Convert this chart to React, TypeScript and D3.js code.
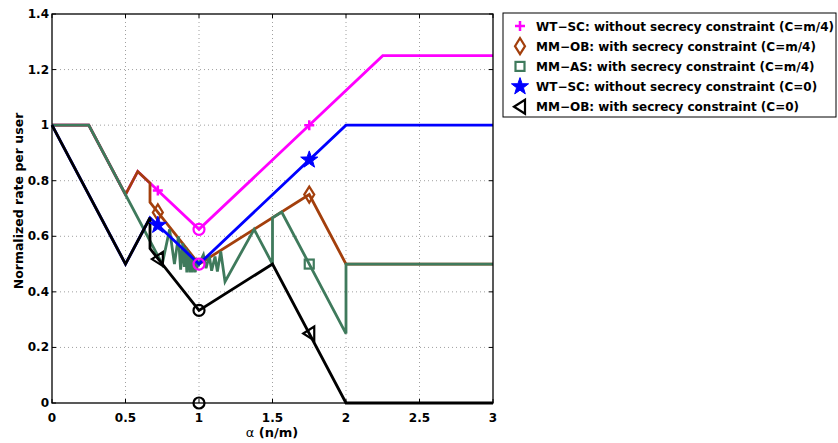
import React from "react";
import * as d3 from "d3";

const xTicks = [0, 0.5, 1, 1.5, 2, 2.5, 3];
const yTicks = [0, 0.2, 0.4, 0.6, 0.8, 1, 1.2, 1.4];

const magentaX = [0, 0.25, 0.5, 0.5833, 1, 2.25, 3];
const magentaY = [1, 1, 0.75, 0.8333, 0.625, 1.25, 1.25];

const brownX = [0, 0.25, 0.5, 0.5833, 0.6667, 0.6667, 1, 1.75, 2, 3];
const brownY = [1, 1, 0.75, 0.8333, 0.7917, 0.7222, 0.5, 0.75, 0.5, 0.5];

const greenX = [0, 0.25, 0.75, 0.8, 0.833, 0.86, 0.875, 0.89, 0.9, 0.91, 0.917, 0.924, 0.929, 0.934, 0.9375, 0.942, 0.946, 0.951, 0.955, 0.96, 0.965, 0.97, 0.975, 0.98, 0.985, 0.99, 1,
  1.03, 1.048, 1.07, 1.086, 1.109, 1.125, 1.148, 1.177, 1.375, 1.5, 1.5, 1.5625, 2, 2, 3];
const greenY = [1, 1, 0.5, 0.625, 0.5, 0.6, 0.48, 0.575, 0.49, 0.56, 0.47, 0.55, 0.48, 0.54, 0.47, 0.535, 0.48, 0.53, 0.47, 0.525, 0.48, 0.52, 0.47, 0.515, 0.48, 0.51, 0.5,
  0.533, 0.485, 0.529, 0.476, 0.527, 0.473, 0.545, 0.437, 0.625, 0.5, 0.6667, 0.6875, 0.25, 0.5, 0.5];

const blueX = [0, 0.5, 0.6667, 1, 2, 3];
const blueY = [1, 0.5, 0.6667, 0.5, 1, 1];

const blackX = [0, 0.5, 0.6667, 0.6667, 1, 1.5, 2, 3];
const blackY = [1, 0.5, 0.6667, 0.5556, 0.3333, 0.5, 0, 0];

const markerX = [0.72, 1.75];
const magentaMarkY = [0.765, 1.0];
const brownMarkY = [0.686, 0.75];
const greenMarkX = [1.75];
const greenMarkY = [0.5];
const blueMarkY = [0.64, 0.875];
const blackMarkY = [0.518, 0.25];

const circleX = [1, 1, 1, 1];
const circleY = [0.625, 0.5, 0.3333, 0];
const circleColorIdx = [0, 0, 4, 4];

const legendLabels = [
  "WT\u2212SC: without secrecy constraint (C=m/4)",
  "MM\u2212OB: with secrecy constraint (C=m/4)",
  "MM\u2212AS: with secrecy constraint (C=m/4)",
  "WT\u2212SC: without secrecy constraint (C=0)",
  "MM\u2212OB: with secrecy constraint (C=0)",
];

const colors = ["#ff00ff", "#a33f0c", "#3f7a5c", "#0000ff", "#000000"];

const W = 838, H = 443;
const L = 52, R = 493, T = 14, B = 403;

const x = d3.scaleLinear().domain([0, 3]).range([L, R]);
const y = d3.scaleLinear().domain([0, 1.4]).range([B, T]);

function starPath(r: number, ri: number) {
  const pts: string[] = [];
  for (let i = 0; i < 10; i++) {
    const a = -Math.PI / 2 + (i * Math.PI) / 5;
    const rr = i % 2 === 0 ? r : ri;
    pts.push(`${(rr * Math.cos(a)).toFixed(2)},${(rr * Math.sin(a)).toFixed(2)}`);
  }
  return "M" + pts.join("L") + "Z";
}

function Marker({ kind, cx, cy, color }: { kind: number; cx: number; cy: number; color: string }) {
  const t = `translate(${cx},${cy})`;
  if (kind === 0)
    return <path transform={t} d="M-5,0H5M0,-5V5" stroke={color} strokeWidth={2.5} fill="none" />;
  if (kind === 1)
    return <path transform={t} d="M0,-8L5,0L0,8L-5,0Z" stroke={color} strokeWidth={2.2} fill="none" />;
  if (kind === 2)
    return <rect x={cx - 4.5} y={cy - 4.5} width={9} height={9} stroke={color} strokeWidth={2.2} fill="none" />;
  if (kind === 3)
    return <path transform={t} d={starPath(9, 3.6)} fill={color} stroke={color} strokeWidth={1} />;
  return <path transform={t} d="M-6,0L5,-7L5,7Z" stroke={color} strokeWidth={2.2} fill="none" strokeLinejoin="miter" />;
}

const series = [
  { xs: magentaX, ys: magentaY },
  { xs: brownX, ys: brownY },
  { xs: greenX, ys: greenY },
  { xs: blueX, ys: blueY },
  { xs: blackX, ys: blackY },
];

export default function App() {
  const line = d3
    .line<[number, number]>()
    .x((d) => x(d[0]))
    .y((d) => y(d[1]));
  const font = "'DejaVu Sans', 'Liberation Sans', Arial, sans-serif";
  const markYs = [magentaMarkY, brownMarkY, null, blueMarkY, blackMarkY];
  return (
    <svg
      width={W}
      height={H}
      style={{ position: "absolute", left: 0, top: 0, background: "#fff" }}
      fontFamily={font}
    >
      <rect x={0} y={0} width={W} height={H} fill="#fff" />
      {/* grid */}
      {xTicks.slice(1, -1).map((t) => (
        <line key={"gx" + t} x1={x(t)} x2={x(t)} y1={T} y2={B} stroke="#a0a0a0" strokeWidth={1} strokeDasharray="1,3" />
      ))}
      {yTicks.slice(1, -1).map((t) => (
        <line key={"gy" + t} x1={L} x2={R} y1={y(t)} y2={y(t)} stroke="#a0a0a0" strokeWidth={1} strokeDasharray="1,3" />
      ))}
      {/* ticks */}
      {xTicks.map((t) => (
        <g key={"tx" + t}>
          <line x1={x(t)} x2={x(t)} y1={B} y2={B - 4} stroke="#000" />
          <line x1={x(t)} x2={x(t)} y1={T} y2={T + 4} stroke="#000" />
          <text x={x(t)} y={B + 19} textAnchor="middle" fontSize={12} fontWeight="bold">
            {String(t)}
          </text>
        </g>
      ))}
      {yTicks.map((t) => (
        <g key={"ty" + t}>
          <line x1={L} x2={L + 4} y1={y(t)} y2={y(t)} stroke="#000" />
          <line x1={R} x2={R - 4} y1={y(t)} y2={y(t)} stroke="#000" />
          <text x={L - 3} y={y(t) + 4} textAnchor="end" fontSize={12} fontWeight="bold">
            {String(t)}
          </text>
        </g>
      ))}
      {/* series */}
      {series.map((s, i) => (
        <path
          key={"s" + i}
          d={line(s.xs.map((v, j) => [v, s.ys[j]] as [number, number])) || ""}
          fill="none"
          stroke={colors[i]}
          strokeWidth={2.8}
          strokeLinejoin="miter"
        />
      ))}
      {/* markers */}
      {markYs.map((ys, i) =>
        ys
          ? ys.map((v, j) => <Marker key={`m${i}-${j}`} kind={i} cx={x(markerX[j])} cy={y(v)} color={colors[i]} />)
          : null
      )}
      {greenMarkX.map((v, j) => (
        <Marker key={"g" + j} kind={2} cx={x(v)} cy={y(greenMarkY[j])} color={colors[2]} />
      ))}
      {circleX.map((v, j) => (
        <circle key={"c" + j} cx={x(v)} cy={y(circleY[j])} r={5.5} fill="none" stroke={colors[circleColorIdx[j]]} strokeWidth={2.2} />
      ))}
      {/* frame */}
      <rect x={L} y={T} width={R - L} height={B - T} fill="none" stroke="#000" strokeWidth={1.3} />
      {/* axis labels */}
      <text x={272} y={437} textAnchor="middle" fontSize={13}>
        <tspan>α</tspan>
        <tspan fontWeight="bold"> (n/m)</tspan>
      </text>
      <text transform={`translate(23,201) rotate(-90)`} textAnchor="middle" fontSize={12.5} fontWeight="bold">
        Normalized rate per user
      </text>
      {/* legend */}
      <rect x={503} y={13} width={333} height={104} fill="#fff" stroke="#000" strokeWidth={1} />
      {legendLabels.map((lab, i) => {
        const ly = 26 + i * 20.2;
        return (
          <g key={"l" + i}>
            <Marker kind={i} cx={520} cy={ly} color={colors[i]} />
            <text x={536} y={ly + 4.5} fontSize={12} fontWeight="bold">
              {lab}
            </text>
          </g>
        );
      })}
    </svg>
  );
}
